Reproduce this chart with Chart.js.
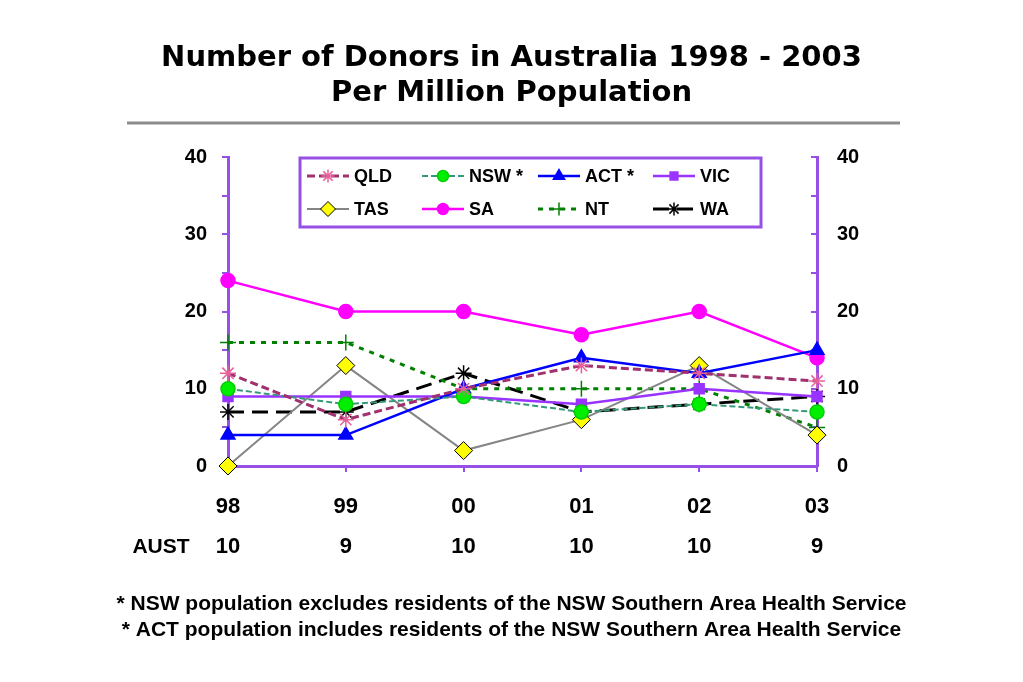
<!DOCTYPE html>
<html>
<head>
<meta charset="utf-8">
<script src="https://cdn.jsdelivr.net/npm/chart.js@4/dist/chart.umd.min.js"></script>
<style>
  body { margin: 0; background: #fff; }
</style>
</head>
<body>
<canvas id="myChart" width="1023" height="682"></canvas>
<script>
const years = ["98", "99", "00", "01", "02", "03"];
const austValues = [10, 9, 10, 10, 10, 9];

const qld = [12, 6, 10, 13, 12, 11];
const nsw = [10, 8, 9, 7, 8, 7];
const act = [4, 4, 10, 14, 12, 15];
const vic = [9, 9, 9, 8, 10, 9];
const tas = [0, 13, 2, 6, 13, 4];
const sa = [24, 20, 20, 17, 20, 14];
const nt = [16, 16, 10, 10, 10, 5];
const wa = [7, 7, 12, 7, 8, 9];

const yTicks = [0, 10, 20, 30, 40];

const FONT = "'Liberation Sans', Arial, sans-serif";
const TITLE_FONT = "'DejaVu Sans', sans-serif";
const AXIS = "#9650e6";

// one entry per series, legend reads from the datasets
const series = [
  { label: "QLD", data: qld, color: "#a0306e", marker: "#e8609a", fill: "#e8609a", style: "star", dash: [8, 4], width: 3, r: 8 },
  { label: "NSW *", data: nsw, color: "#33997a", marker: "#00d000", fill: "#00ee00", style: "circle", dash: [6, 3], width: 2, r: 7 },
  { label: "ACT *", data: act, color: "#0000ff", marker: "#0000ff", fill: "#0000ff", style: "triangle", dash: [], width: 2.5, r: 8 },
  { label: "VIC", data: vic, color: "#9933ff", marker: "#9933ff", fill: "#9933ff", style: "rect", dash: [], width: 2.5, r: 7 },
  { label: "TAS", data: tas, color: "#858585", marker: "#000000", fill: "#ffff00", style: "rectRot", dash: [], width: 2, r: 9 },
  { label: "SA", data: sa, color: "#ff00ff", marker: "#ff00ff", fill: "#ff00ff", style: "circle", dash: [], width: 2.5, r: 7 },
  { label: "NT", data: nt, color: "#008000", marker: "#008000", fill: "#008000", style: "cross", dash: [5, 6], width: 3, r: 8 },
  { label: "WA", data: wa, color: "#000000", marker: "#000000", fill: "#000000", style: "star", dash: [16, 8], width: 3, r: 8 },
];

const datasets = series.map((s) => ({
  label: s.label,
  data: s.data,
  borderColor: s.color,
  borderWidth: s.width,
  borderDash: s.dash,
  pointStyle: s.style,
  pointRadius: s.r,
  pointBackgroundColor: s.fill,
  pointBorderColor: s.marker,
  pointBorderWidth: s.style === "rectRot" ? 1 : 1.5,
  tension: 0,
  clip: false,
}));

// legend box, rule under the title and the AUST row label
const extras = {
  id: "extras",
  afterDraw(chart) {
    const ctx = chart.ctx;
    const area = chart.chartArea;
    ctx.save();

    ctx.strokeStyle = "#8c8c8c";
    ctx.lineWidth = 3;
    ctx.beginPath();
    ctx.moveTo(127, 123);
    ctx.lineTo(900, 123);
    ctx.stroke();

    const x = chart.scales.x;
    ctx.fillStyle = "#000";
    ctx.font = "bold 21px " + FONT;
    ctx.textAlign = "center";
    ctx.textBaseline = "middle";
    ctx.fillText("AUST", 161, x.top + 81);

    const bx = area.left + 72;
    const by = area.top + 1;
    const bw = 461;
    const bh = 69;
    ctx.fillStyle = "#fff";
    ctx.fillRect(bx, by, bw, bh);
    ctx.strokeStyle = AXIS;
    ctx.lineWidth = 3;
    ctx.strokeRect(bx, by, bw, bh);

    const cols = [7, 122, 238, 353];
    const rows = [18, 51];
    ctx.font = "bold 18px " + FONT;
    ctx.textAlign = "left";
    chart.data.datasets.forEach((ds, i) => {
      const sx = bx + cols[i % 4];
      const sy = by + rows[Math.floor(i / 4)];
      ctx.strokeStyle = ds.borderColor;
      ctx.lineWidth = ds.borderWidth;
      ctx.setLineDash(ds.borderDash);
      ctx.beginPath();
      ctx.moveTo(sx, sy);
      ctx.lineTo(sx + 42, sy);
      ctx.stroke();
      ctx.setLineDash([]);
      ctx.fillStyle = ds.pointBackgroundColor;
      ctx.strokeStyle = ds.pointBorderColor;
      ctx.lineWidth = ds.pointBorderWidth;
      Chart.helpers.drawPoint(ctx, {
        pointStyle: ds.pointStyle,
        radius: ds.pointRadius - 1.5,
        borderWidth: ds.pointBorderWidth,
        rotation: 0,
      }, sx + 21, sy);
      ctx.fillStyle = "#000";
      ctx.fillText(ds.label, sx + 47, sy + 1);
    });
    ctx.restore();
  },
};

const myChart = new Chart(document.querySelector("#myChart"), {
  type: "line",
  data: { labels: years, datasets },
  plugins: [extras],
  options: {
    responsive: false,
    animation: false,
    devicePixelRatio: 1,
    layout: { padding: 0 },
    plugins: {
      legend: { display: false },
      tooltip: { enabled: false },
      title: {
        display: true,
        text: ["Number of Donors in Australia 1998 - 2003", "Per Million Population"],
        color: "#000",
        font: { family: TITLE_FONT, size: 29, weight: "bold", lineHeight: "35px" },
        padding: { top: 41, bottom: 46 },
      },
      subtitle: {
        display: true,
        position: "bottom",
        text: [
          "* NSW population excludes residents of the NSW Southern Area Health Service",
          "* ACT population includes residents of the NSW Southern Area Health Service",
        ],
        color: "#000",
        font: { family: FONT, size: 21, weight: "bold", lineHeight: "26px" },
        padding: { top: 0, bottom: 39 },
      },
    },
    scales: {
      x: {
        offset: false,
        border: { color: AXIS, width: 3 },
        grid: { drawOnChartArea: false, color: AXIS, lineWidth: 2, tickLength: 6 },
        ticks: {
          color: "#000",
          padding: 15,
          maxRotation: 0,
          font: { family: FONT, size: 22, weight: "bold", lineHeight: "40px" },
          callback: (v, i) => [years[i], String(austValues[i])],
        },
        afterFit: (s) => { s.height = 125; },
      },
      y: {
        min: 0,
        max: 40,
        border: { color: AXIS, width: 3 },
        grid: { drawOnChartArea: false, color: AXIS, lineWidth: 2, tickLength: 6 },
        ticks: {
          stepSize: 5,
          color: "#000",
          padding: 15,
          font: { family: FONT, size: 20, weight: "bold" },
          callback: (v) => (yTicks.includes(v) ? v : ""),
        },
        afterFit: (s) => { s.width = 228; },
      },
      y2: {
        position: "right",
        min: 0,
        max: 40,
        border: { color: AXIS, width: 3 },
        grid: { drawOnChartArea: false, color: AXIS, lineWidth: 2, tickLength: -6 },
        ticks: {
          stepSize: 5,
          color: "#000",
          padding: 26,
          font: { family: FONT, size: 20, weight: "bold" },
          callback: (v) => (yTicks.includes(v) ? v : ""),
        },
        afterFit: (s) => { s.width = 206; },
      },
    },
  },
});
</script>
</body>
</html>
